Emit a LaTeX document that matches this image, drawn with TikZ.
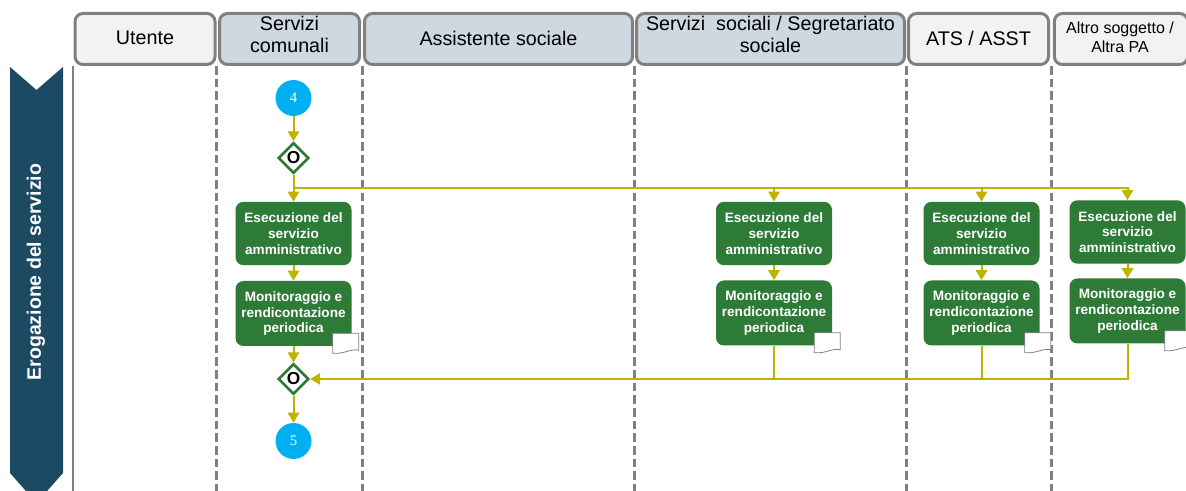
\documentclass[tikz,border=0pt]{standalone}
\usepackage{fontspec}
\setmainfont{Liberation Sans}
\newfontfamily\digitfont{Liberation Serif}
\usetikzlibrary{shapes.geometric,arrows.meta}
\definecolor{banner}{HTML}{1B4A62}
\definecolor{hdrgray}{HTML}{808080}
\definecolor{hdrlight}{HTML}{F2F2F2}
\definecolor{hdrblue}{HTML}{CDD8E1}
\definecolor{actgreen}{HTML}{2E7B38}
\definecolor{flowc}{HTML}{BDB300}
\definecolor{startc}{HTML}{00B0F0}
\begin{document}
\begin{tikzpicture}[x=0.75pt,y=-0.75pt,
  hdr/.style={draw=hdrgray, line width=2.25pt, rounded corners=6pt, minimum height=38.25pt, inner sep=0pt},
  hdrtext/.style={align=center, inner sep=0pt, font=\fontsize{14.8}{16.5}\selectfont},
  act/.style={fill=actgreen, rounded corners=6pt, minimum width=87pt, minimum height=47.5pt, inner sep=0pt, align=center, text=white, font=\bfseries\fontsize{10.2}{11.8}\selectfont},
  gate/.style={diamond, draw=actgreen, fill=white, line width=2pt, minimum width=23pt, minimum height=23pt, inner sep=0pt, aspect=1, font=\bfseries\fontsize{13}{13}\selectfont},
  evt/.style={circle, fill=startc, minimum size=27pt, inner sep=0pt, text=white, font=\digitfont\fontsize{11}{11}\selectfont},
  lanesep/.style={draw=hdrgray, line width=2.25pt, dash pattern=on 6.5pt off 3pt},
  line/.style={draw=flowc, line width=1.5pt},
  flow/.style={line, -{Triangle[length=7.5pt,width=8.5pt]}},
  docicon/.pic={\draw[draw=gray, fill=white, line width=0.6pt] (0,0) -- (26,0) -- (26,17) .. controls (18,15) and (12,21) .. (0,20) -- cycle;}
]
\useasboundingbox (0,0) rectangle (1186,491);
\clip (0,0) rectangle (1186,491);

% lane banner
\fill[banner] (10,67) -- (36.5,90) -- (63,67) -- (63,473) -- (36.5,503) -- (10,473) -- cycle;
\node[rotate=90, text=white, font=\bfseries\fontsize{14.6}{14}\selectfont] (lane) at (36,272) {Erogazione del servizio};

% body lines
\draw[draw=hdrgray, line width=1.5pt] (73,66) -- (73,495);
\foreach \x in {216,362,634,906,1051} \draw[lanesep] (\x,66) -- (\x,495);

% headers
\node[hdr, fill=hdrlight, minimum width=105pt] (hU) at (145,39) {};
\node[hdrtext] (hUt) at (145,38) {Utente};
\node[hdr, fill=hdrblue, minimum width=105pt] (hSC) at (289.5,39) {};
\node[hdrtext] (hSCt) at (289.5,34) {Servizi\\comunali};
\node[hdr, fill=hdrblue, minimum width=201pt] (hAS) at (498.5,39) {};
\node[hdrtext] (hASt) at (498.5,38) {Assistente sociale};
\node[hdr, fill=hdrblue, minimum width=201pt] (hSS) at (770.5,39) {};
\node[hdrtext] (hSSt) at (770.5,34) {Servizi\ \ sociali / Segretariato\\sociale};
\node[hdr, fill=hdrlight, minimum width=105pt] (hATS) at (978.5,39) {};
\node[hdrtext] (hATSt) at (978.5,38) {ATS / ASST};
\node[hdr, fill=hdrlight, minimum width=100pt] (hAL) at (1121,39) {};
\node[hdrtext, font=\fontsize{12}{14}\selectfont] (hALt) at (1120,37) {Altro soggetto /\\Altra PA};

% Servizi comunali lane
\node[evt] (s4) at (293.5,98) {4};
\node[gate] (g1) at (293.5,158) {O};
\node[act] (e1) at (293.5,233.5) {Esecuzione del\\servizio\\amministrativo};
\node[act, minimum height=48.75pt] (m1) at (293.5,313.5) {Monitoraggio e\\rendicontazione\\periodica};
\node[gate] (g2) at (293.5,379) {O};
\node[evt] (s5) at (293.5,441) {5};

% other lanes
\node[act] (eA) at (774,233.5) {Esecuzione del\\servizio\\amministrativo};
\node[act, minimum height=48.75pt] (mA) at (774,313) {Monitoraggio e\\rendicontazione\\periodica};
\node[act] (eB) at (981.5,233.5) {Esecuzione del\\servizio\\amministrativo};
\node[act, minimum height=48.75pt] (mB) at (981.5,313) {Monitoraggio e\\rendicontazione\\periodica};
\node[act] (eC) at (1127.5,232) {Esecuzione del\\servizio\\amministrativo};
\node[act, minimum height=48.75pt] (mC) at (1127.5,311) {Monitoraggio e\\rendicontazione\\periodica};

% document icons
\path (m1.south east) ++(-19,-13) pic {docicon};
\path (mA.south east) ++(-18,-13) pic {docicon};
\path (mB.south east) ++(-15,-13) pic {docicon};
\path (mC.south east) ++(-21,-13) pic {docicon};

% connectors
\coordinate (sp) at (293.5,188);
\draw[flow] (s4) -- (g1);
\draw[flow] (g1.south) -- (e1.north);
\draw[flow] (sp) -| (eC.north);
\draw[flow] (sp -| eA.north) -- (eA.north);
\draw[flow] (sp -| eB.north) -- (eB.north);
\draw[flow] (e1) -- (m1);
\draw[flow] (eA) -- (mA);
\draw[flow] (eB) -- (mB);
\draw[flow] (eC) -- (mC);
\draw[flow] (m1.south) -- (g2.north);
\draw[flow] (mC.south) |- (g2.east);
\draw[line] (mA.south) -- (mA.south |- g2.east);
\draw[line] (mB.south) -- (mB.south |- g2.east);
\draw[flow] (g2.south) -- (s5.north);
\end{tikzpicture}
\end{document}
